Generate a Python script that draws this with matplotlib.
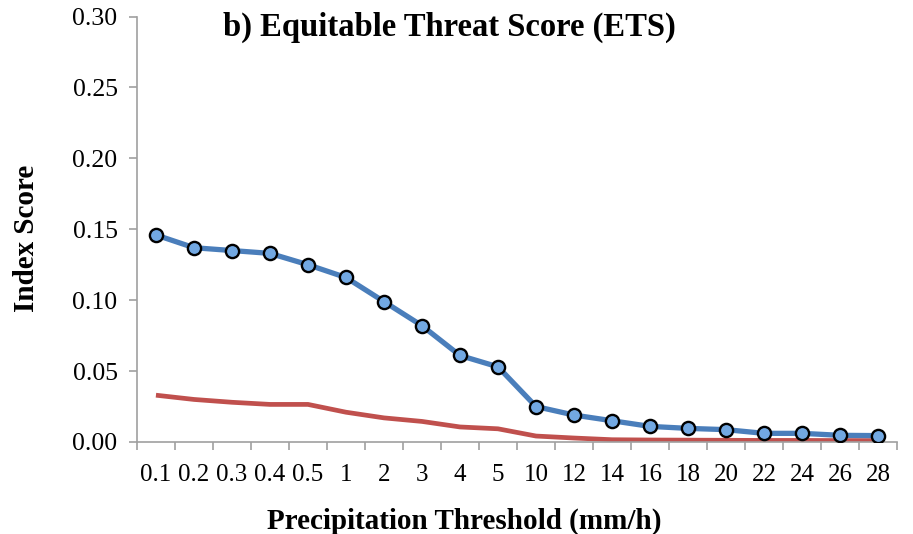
import matplotlib.pyplot as plt
import numpy as np

# data
thresholds = ['0.1', '0.2', '0.3', '0.4', '0.5', '1', '2', '3', '4', '5',
              '10', '12', '14', '16', '18', '20', '22', '24', '26', '28']
ets_blue = [0.146, 0.137, 0.135, 0.133, 0.125, 0.116, 0.099, 0.082, 0.061, 0.053,
            0.025, 0.019, 0.015, 0.011, 0.0096, 0.0087, 0.0061, 0.0061, 0.0047, 0.0045]
ets_red = [0.033, 0.030, 0.028, 0.0265, 0.0265, 0.021, 0.017, 0.0145, 0.0106, 0.0093,
           0.0042, 0.0028, 0.0016, 0.0014, 0.0013, 0.0012, 0.0011, 0.0011, 0.0010, 0.0010]
yticks = [0.00, 0.05, 0.10, 0.15, 0.20, 0.25, 0.30]

plt.rcParams['font.family'] = ['Liberation Serif', 'DejaVu Serif']

fig = plt.figure(figsize=(9.13, 5.34), dpi=100)
ax = fig.add_axes([0.150, 0.1723, 0.8325, 0.7967])

x = np.arange(len(thresholds))
ax.plot(x, ets_red, color='#C0504D', lw=3.4, solid_capstyle='butt', zorder=2)
ax.plot(x, ets_blue, color='#4A7EBB', lw=3.8, zorder=3,
        marker='o', markersize=9.5, markerfacecolor='#72A8E2',
        markeredgecolor='black', markeredgewidth=1.7)

ax.set_xlim(-0.5, len(thresholds) - 0.5)
ax.set_ylim(0, 0.30)
ax.set_yticks(yticks)
ax.set_yticklabels(['%.2f' % v for v in yticks])
ax.set_xticks(x)
ax.set_xticklabels(thresholds)
ax.set_xticks(np.arange(-0.5, len(thresholds)), minor=True)

for s in ['top', 'right']:
    ax.spines[s].set_visible(False)
for s in ['left', 'bottom']:
    ax.spines[s].set_color('#A0A0A0')
    ax.spines[s].set_linewidth(1.2)

ax.tick_params(axis='y', which='major', length=6, width=1.2, color='#A0A0A0',
               labelsize=18.5, pad=8)
ax.tick_params(axis='x', which='major', length=0, labelsize=18, pad=16)
ax.tick_params(axis='x', which='minor', length=6, width=1.2, color='#A0A0A0')

ax.set_ylabel('Index Score', fontsize=21, fontweight='bold')
ax.set_xlabel('Precipitation Threshold (mm/h)', fontsize=21, fontweight='bold')
ax.yaxis.set_label_coords(-0.128, 0.478)
ax.xaxis.set_label_coords(0.43, -0.155)
fig.text(0.492, 0.948, 'b) Equitable Threat Score (ETS)', fontsize=23.5,
         fontweight='bold', ha='center', va='center')

plt.savefig('out.png', dpi=100)
